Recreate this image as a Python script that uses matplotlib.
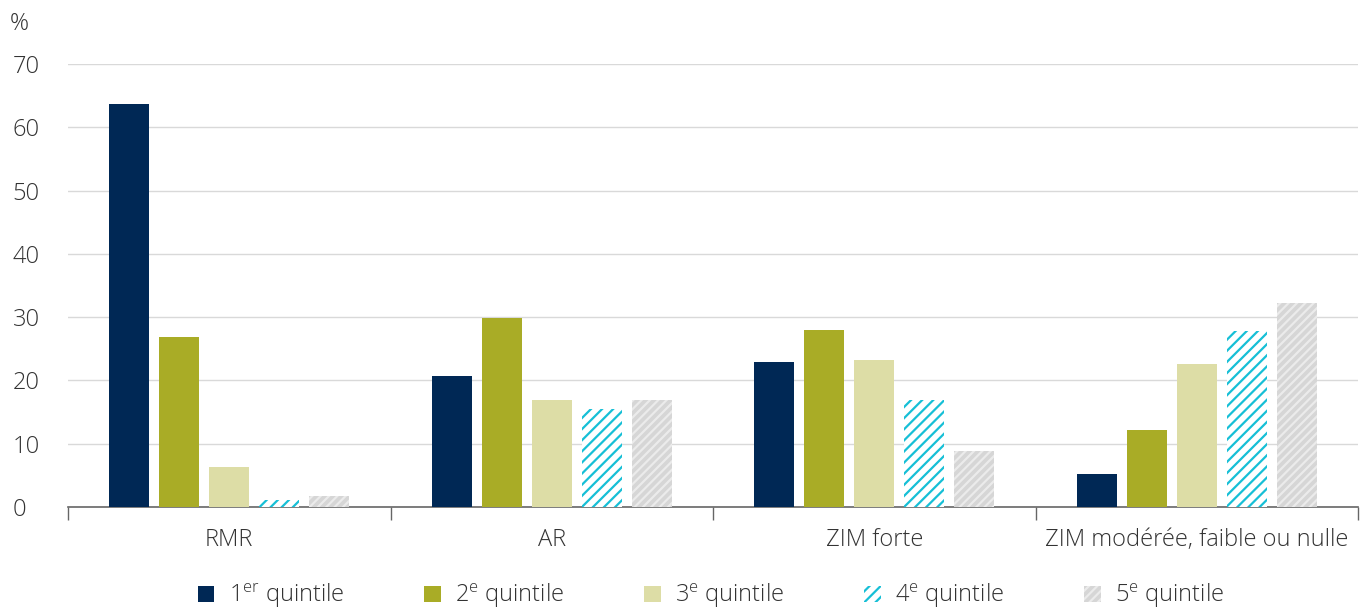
import matplotlib
matplotlib.use("Agg")
import matplotlib.pyplot as plt
import numpy as np

categories = ["RMR", "AR", "ZIM forte", "ZIM modérée, faible ou nulle"]
series_labels = ["1$^{\\mathrm{er}}$ quintile", "2$^{\\mathrm{e}}$ quintile", "3$^{\\mathrm{e}}$ quintile",
                 "4$^{\\mathrm{e}}$ quintile", "5$^{\\mathrm{e}}$ quintile"]
q1 = [63.7, 20.7, 22.9, 5.2]
q2 = [26.9, 29.9, 28.0, 12.2]
q3 = [6.3, 16.9, 23.2, 22.6]
q4 = [1.1, 15.5, 16.9, 27.8]
q5 = [1.7, 16.9, 8.8, 32.2]
yticks = [0, 10, 20, 30, 40, 50, 60, 70]

plt.rcParams['font.family'] = ['Open Sans', 'DejaVu Sans']
plt.rcParams['font.weight'] = 'light'
plt.rcParams['mathtext.fontset'] = 'custom'
plt.rcParams['mathtext.rm'] = 'Open Sans:light'
plt.rcParams['mathtext.it'] = 'Open Sans:light'
plt.rcParams['hatch.linewidth'] = 1.6

txt = '#333333'
fs = 17
fig = plt.figure(figsize=(13.64, 6.08), dpi=100)
ax = fig.add_axes([68/1364, 101/608, 1290/1364, 443/608])

styles = [
    dict(color='#002855'),
    dict(color='#a9ac26'),
    dict(color='#dddda6'),
    dict(facecolor='white', edgecolor='#16bfd6', hatch='///', linewidth=0),
    dict(facecolor='#d6d6d6', edgecolor='#ebebeb', hatch='////', linewidth=0),
]
data = [q1, q2, q3, q4, q5]
x = np.arange(len(categories))
w = 0.124
step = 0.155
handles = []
for i, (vals, st) in enumerate(zip(data, styles)):
    b = ax.bar(x + (i - 2) * step, vals, width=w, label=series_labels[i], zorder=3, **st)
    handles.append(b)

ax.set_xlim(-0.5, len(categories) - 0.5)
ax.set_ylim(0, 70)
ax.set_yticks(yticks)
ax.grid(axis='y', color='#d9d9d9', linewidth=1, zorder=0)
ax.set_axisbelow(True)
for s in ['top', 'right', 'left']:
    ax.spines[s].set_visible(False)
ax.spines['bottom'].set_color('#666666')
ax.spines['bottom'].set_linewidth(1.2)
ax.tick_params(axis='y', length=0, labelsize=fs, labelcolor=txt, pad=40)
ax.set_xticks(np.arange(-0.5, len(categories) + 0.5, 1))
ax.set_xticklabels([])
ax.set_xticks(x, minor=True)
ax.set_xticklabels(categories, minor=True)
ax.tick_params(axis='x', which='major', length=9, color='#666666', width=1)
ax.tick_params(axis='x', which='minor', length=0, labelsize=fs, labelcolor=txt, pad=15)
for lab in ax.get_yticklabels():
    lab.set_horizontalalignment('left')
fig.text(10/1364, 1 - 24/608, '%', fontsize=fs, color=txt, va='center', ha='left')

fig.legend(handles=handles, loc='center', bbox_to_anchor=(711/1364, 1 - 596/608), ncol=5,
           frameon=False, fontsize=fs, labelcolor=txt, handlelength=0.7, handleheight=0.7,
           handletextpad=0.6, columnspacing=3.4)

fig.savefig('out.png', dpi=100)
